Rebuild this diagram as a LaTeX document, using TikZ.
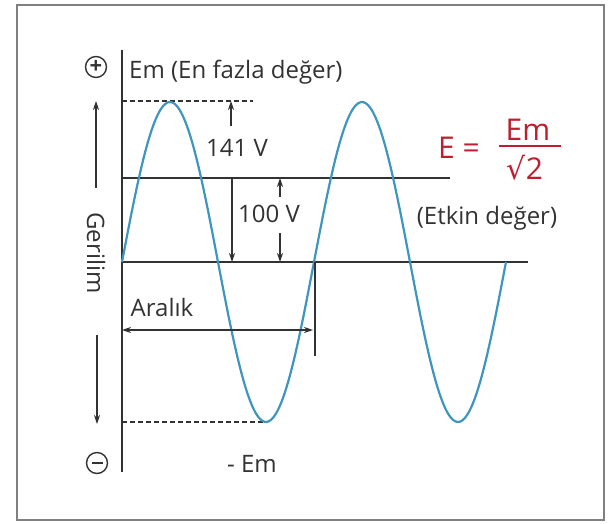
\documentclass[tikz,border=0pt]{standalone}
\usepackage{fontspec}
\setmainfont{Open Sans}
\newfontfamily\symfont{DejaVu Sans}
\usetikzlibrary{positioning,arrows.meta}
\definecolor{wavecol}{RGB}{62,150,190}
\definecolor{inkgray}{RGB}{50,50,50}
\definecolor{formred}{RGB}{190,30,45}

\begin{document}
\begin{tikzpicture}[
    x=1pt, y=-1pt,
    font=\fontsize{24}{28}\selectfont,
    lbl/.style={text=inkgray, inner sep=1pt},
    red/.style={text=formred, inner sep=1pt, font=\fontsize{30}{34}\selectfont},
    axisline/.style={draw=inkgray, line width=1.6pt},
    level/.style={draw=inkgray, line width=1.6pt},
    dashlvl/.style={draw=inkgray, line width=1.5pt, dash pattern=on 5pt off 3pt},
    arr/.style={-{Stealth[length=9pt,width=6pt]}, line width=1.2pt, draw=inkgray},
    sign/.style={circle, draw=inkgray, line width=1.4pt, minimum size=21pt,
      inner sep=0pt, text=inkgray, font=\fontsize{22}{22}\selectfont\bfseries},
    wave/.style={draw=wavecol, line width=2.2pt},
  ]
  \useasboundingbox (0,0) rectangle (611,523);
  \draw[draw=gray, line width=1.5pt] (17,5) rectangle (604,520);

  % axis and levels
  \coordinate (axtop) at (122,50);
  \coordinate (axbot) at (122,472);
  \draw[axisline] (axtop) -- (axbot);
  \coordinate (zeroL) at (122,262);
  \coordinate (zeroR) at (528,262);
  \coordinate (effL) at (122,178);
  \coordinate (effR) at (450,178);
  \draw[level] (zeroL) -- (zeroR);
  \draw[level] (effL) -- (effR);
  \coordinate (peakL) at (122,101);
  \coordinate (peakR) at (253,101);
  \coordinate (troughL) at (122,422);
  \coordinate (troughR) at (263,422);
  \draw[dashlvl] (peakL) -- (peakR);
  \draw[dashlvl] (troughL) -- (troughR);

  % the wave
  \draw[wave] plot[domain=122:506, samples=160, smooth]
    (\x, {262-160*sin(360/192*(\x-122))});

  % polarity
  \node[sign] (plus) at (96,67) {\raisebox{1pt}{+}};
  \node[sign] (minus) at (97,463) {\rule{11pt}{2.2pt}};
  \coordinate (upS) at (96,188);
  \coordinate (upE) at (96,101);
  \coordinate (dnS) at (97,335);
  \coordinate (dnE) at (97,424);
  \draw[arr] (upS) -- (upE);
  \draw[arr] (dnS) -- (dnE);
  \node[lbl, rotate=-90] (volt) at (96,253) {Gerilim};

  % labels
  \node[lbl, anchor=west] (emax) at (128,72) {Em (En fazla değer)};
  \node[lbl] (emin) at (252,464) {- Em};

  % 141 V
  \node[lbl] (v141) at (237,148) {141 V};
  \coordinate (a141) at (231,126);
  \coordinate (b141) at (231,101);
  \draw[arr] (a141) -- (b141);
  \coordinate (c141) at (232,178);
  \coordinate (d141) at (232,262);
  \draw[arr] (c141) -- (d141);

  % 100 V
  \node[lbl] (v100) at (269,214) {100 V};
  \coordinate (a100) at (280,197);
  \coordinate (b100) at (280,178);
  \draw[arr] (a100) -- (b100);
  \coordinate (c100) at (280,233);
  \coordinate (d100) at (280,262);
  \draw[arr] (c100) -- (d100);

  % Aralik
  \node[lbl] (span) at (162,307) {Aralık};
  \coordinate (spanL) at (122,330);
  \coordinate (spanR) at (313,330);
  \draw[arr, {Stealth[length=9pt,width=6pt]}-{Stealth[length=9pt,width=6pt]}] (spanL) -- (spanR);
  \coordinate (tickT) at (315,262);
  \coordinate (tickB) at (315,356);
  \draw[level, line width=1.2pt] (tickT) -- (tickB);

  % formula
  \node[red] (eq) at (459,148) {E =};
  \node[red] (num) at (528,130) {Em};
  \node[red] (den) at (525,168) {{\symfont √}2};
  \coordinate (barL) at (499,146);
  \coordinate (barR) at (561,146);
  \draw[draw=formred, line width=1.8pt] (barL) -- (barR);
  \node[lbl] (eff) at (487,218) {(Etkin değer)};
\end{tikzpicture}
\end{document}
